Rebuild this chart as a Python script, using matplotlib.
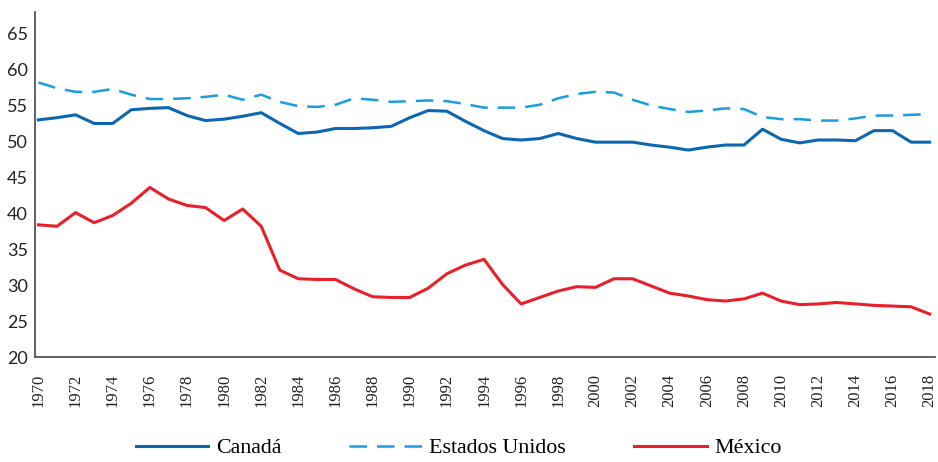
import matplotlib
matplotlib.use("Agg")
import matplotlib.pyplot as plt

years = list(range(1970, 2019))

canada = [53.0, 53.3, 53.7, 52.5, 52.5, 54.4, 54.6, 54.7, 53.6, 52.9,
          53.1, 53.5, 54.0, 52.5, 51.1, 51.3, 51.8, 51.8, 51.9, 52.1,
          53.3, 54.3, 54.2, 52.8, 51.5, 50.4, 50.2, 50.4, 51.1, 50.4,
          49.9, 49.9, 49.9, 49.5, 49.2, 48.8, 49.2, 49.5, 49.5, 51.7,
          50.3, 49.8, 50.2, 50.2, 50.1, 51.5, 51.5, 49.9, 49.9]

estados_unidos = [58.2, 57.4, 56.9, 56.9, 57.3, 56.5, 55.9, 55.9, 56.0, 56.2,
                  56.5, 55.8, 56.5, 55.5, 54.9, 54.8, 55.1, 56.0, 55.8, 55.5,
                  55.6, 55.7, 55.6, 55.2, 54.7, 54.7, 54.7, 55.1, 56.0, 56.6,
                  56.9, 56.8, 55.8, 55.0, 54.5, 54.1, 54.3, 54.6, 54.5, 53.4,
                  53.1, 53.1, 52.9, 52.9, 53.2, 53.6, 53.6, 53.7, 53.8]

mexico = [38.4, 38.2, 40.1, 38.7, 39.7, 41.4, 43.6, 42.0, 41.1, 40.8,
          39.0, 40.6, 38.2, 32.1, 30.9, 30.8, 30.8, 29.5, 28.4, 28.3,
          28.3, 29.6, 31.6, 32.8, 33.6, 30.1, 27.4, 28.3, 29.2, 29.8,
          29.7, 30.9, 30.9, 29.9, 28.9, 28.5, 28.0, 27.8, 28.1, 28.9,
          27.8, 27.3, 27.4, 27.6, 27.4, 27.2, 27.1, 27.0, 26.0]

fig = plt.figure(figsize=(9.38, 4.62), dpi=100)
ax = fig.add_axes([0.037, 0.227, 0.96, 0.747])

ax.plot(years, canada, color="#0b67b2", lw=2.2, label="Canadá")
ax.plot(years, estados_unidos, color="#1b9ddf", lw=1.8, dashes=(7, 4),
        label="Estados Unidos")
ax.plot(years, mexico, color="#e8202a", lw=2.2, label="México")

ax.set_xlim(1969.8, 2018.3)
ax.set_ylim(20, 68)
ax.set_yticks(range(20, 70, 5))
ax.set_xticks(range(1970, 2019, 2))
ax.set_xticklabels([str(y) for y in range(1970, 2019, 2)], rotation=90,
                   family="Liberation Serif", fontsize=12)
for t in ax.get_yticklabels():
    t.set_family("Lato")
    t.set_fontsize(13)
ax.tick_params(length=0, colors="#222222")
ax.tick_params(axis="y", pad=5)
ax.tick_params(axis="x", pad=12)

for s in ["top", "right"]:
    ax.spines[s].set_visible(False)
for s in ["left", "bottom"]:
    ax.spines[s].set_color("#555555")
    ax.spines[s].set_linewidth(1.3)

fig.legend(loc="center", bbox_to_anchor=(0.489, 0.03), ncol=3, frameon=False,
           prop={"family": "Liberation Serif", "size": 15.8},
           handlelength=3.3, columnspacing=3.1, handletextpad=0.35)

fig.savefig("out.png", dpi=100)
